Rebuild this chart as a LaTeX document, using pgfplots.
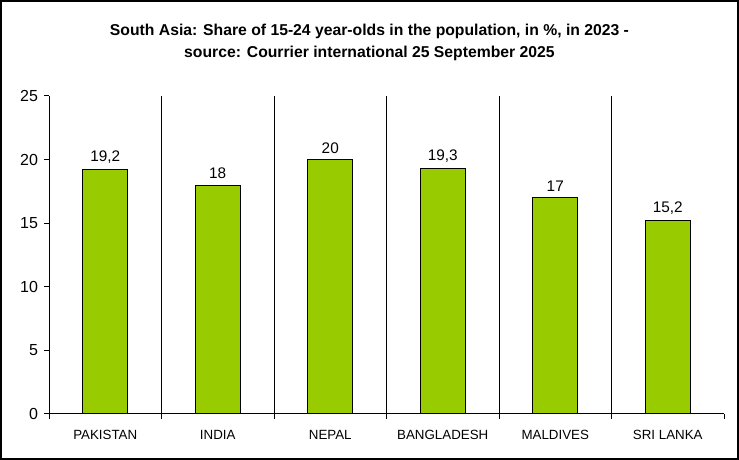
\documentclass[border=0pt]{standalone}
\usepackage{pgfplots}
\pgfplotsset{compat=1.18}
\usepackage{fontspec}
\setmainfont{Liberation Sans}
\definecolor{barg}{HTML}{99CC00}
\begin{document}
\begin{tikzpicture}
\useasboundingbox (0,0) rectangle (554.25pt,345pt);
\draw[line width=1.5pt] (0.75pt,0.75pt) rectangle (553.5pt,344.25pt);
\node[align=center, font=\bfseries\fontsize{11.8}{16.5}\selectfont] at (277.1pt,313.5pt)
  {South Asia: Share of 15-24 year-olds in the population, in \%, in 2023 -\\source: Courrier international 25 September 2025};
\begin{axis}[
  at={(36.75pt,34.5pt)}, anchor=south west,
  scale only axis, width=506.25pt, height=238.5pt,
  xmin=-0.5, xmax=5.5, ymin=0, ymax=25,
  axis x line*=bottom, axis y line*=left,
  axis line style={line width=0.75pt},
  ytick={0,5,10,15,20,25},
  xtick={-0.5,0.5,1.5,2.5,3.5,4.5,5.5},
  x tick label as interval,
  xticklabels={PAKISTAN,INDIA,NEPAL,BANGLADESH,MALDIVES,SRI LANKA},
  extra x ticks={0.5,1.5,2.5,3.5,4.5},
  extra x tick labels={},
  extra x tick style={grid=major, major tick length=0pt},
  major grid style={black, line width=0.75pt},
  tick align=outside,
  major tick length=3.75pt,
  tick style={black, line width=0.75pt},
  xticklabel style={font=\fontsize{10}{12}\selectfont, yshift=-5pt},
  yticklabel style={font=\fontsize{12}{14}\selectfont, xshift=-1pt},
  /pgf/number format/assume math mode=true,
  /pgf/number format/use comma,
  nodes near coords,
  every node near coord/.append style={font=\fontsize{11.5}{13}\selectfont, yshift=1pt},
]
\addplot[ybar, bar width=33.75pt, fill=barg, draw=black, line width=0.75pt]
  coordinates {(0,19.2) (1,18) (2,20) (3,19.3) (4,17) (5,15.2)};
\end{axis}
\end{tikzpicture}
\end{document}
